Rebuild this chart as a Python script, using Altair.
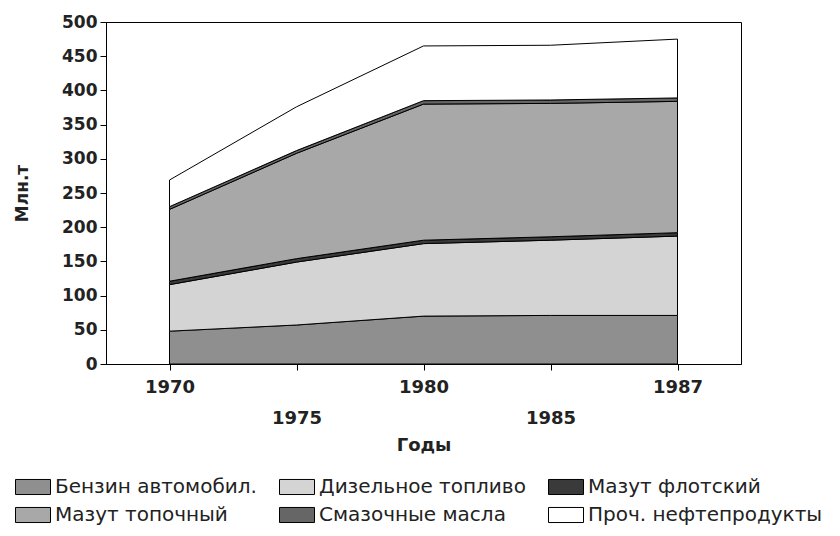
import altair as alt
import pandas as pd

years = ["1970", "1975", "1980", "1985", "1987"]
series = ["Бензин автомобил.", "Дизельное топливо", "Мазут флотский",
          "Мазут топочный", "Смазочные масла", "Проч. нефтепродукты"]
benzin = [48, 57, 70, 71, 71]
diesel = [68, 92, 106, 110, 116]
mazut_flot = [5, 5, 5, 5, 5]
mazut_topoch = [105, 154, 199, 195, 192]
masla = [4, 4, 5, 5, 5]
other = [39, 64, 80, 80, 86]
colors = ["#8f8f8f", "#d4d4d4", "#3a3a3a", "#a8a8a8", "#666666", "#ffffff"]

values = [benzin, diesel, mazut_flot, mazut_topoch, masla, other]
rows = []
for k, (name, vals) in enumerate(zip(series, values)):
    for i, v in enumerate(vals):
        rows.append({"i": i, "year": years[i], "series": name, "k": k, "v": v})
df = pd.DataFrame(rows)

# x labels alternate between two rows
parts = []
for i, y in enumerate(years):
    lab = f"'{y}'" if i % 2 == 0 else f"['', '{y}']"
    parts.append(f"datum.value == {i} ? {lab}")
label_expr = " : ".join(parts) + " : ''"

FONT = "DejaVu Sans"
TXT = "#222222"

chart = alt.Chart(df).mark_area(stroke="black", strokeWidth=1, interpolate="linear").encode(
    x=alt.X("i:Q",
            scale=alt.Scale(domain=[-0.5, 4.5], nice=False, zero=False),
            axis=alt.Axis(values=list(range(len(years))), labelExpr=label_expr,
                          title="Годы", grid=False, tickSize=6, labelPadding=8,
                          labelLineHeight=31, labelOverlap=False, labelFlush=False,
                          labelFont=FONT, labelFontSize=18, labelFontWeight="bold",
                          labelColor=TXT, titleFont=FONT, titleFontSize=18,
                          titleFontWeight="bold", titleColor=TXT,
                          titleX=317.5, titleY=81, titleBaseline="middle",
                          titleAlign="center", domainColor="black", tickColor="black")),
    y=alt.Y("v:Q", stack="zero",
            scale=alt.Scale(domain=[0, 500], nice=False),
            axis=alt.Axis(values=list(range(0, 501, 50)), title="Млн.т", grid=False,
                          tickSize=6, labelPadding=3, labelFont=FONT, labelFontSize=17,
                          labelFontWeight="bold", labelColor=TXT, titleFont=FONT,
                          titleFontSize=17, titleFontWeight="bold", titleColor=TXT,
                          titleAngle=270, titleX=-84, titleY=171, titleAlign="center",
                          titleBaseline="middle", domainColor="black", tickColor="black")),
    color=alt.Color("series:N",
                    scale=alt.Scale(domain=series, range=colors),
                    legend=alt.Legend(title=None, orient="none", legendX=-91, legendY=447,
                                      columns=3, direction="horizontal",
                                      symbolType="M-1,-0.43L1,-0.43L1,0.43L-1,0.43Z",
                                      symbolSize=1225, symbolStrokeColor="black",
                                      symbolStrokeWidth=1, symbolOpacity=1,
                                      labelFont=FONT, labelFontSize=20, labelColor=TXT,
                                      labelLimit=400, labelOffset=4, columnPadding=20,
                                      rowPadding=-5, padding=0)),
    order=alt.Order("k:Q"),
).properties(
    width=635, height=342,
    autosize=alt.AutoSizeParams(type="none"),
    padding={"left": 98, "top": 14, "right": 91, "bottom": 164},
).configure_view(stroke="black", strokeWidth=1)

chart.save("out.html", embed_options={"renderer": "svg", "actions": False})
